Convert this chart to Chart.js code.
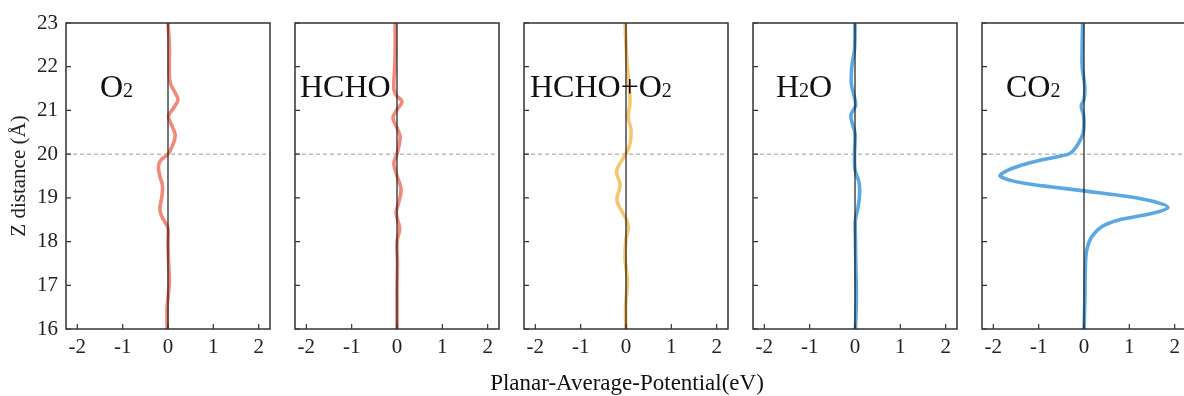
<!DOCTYPE html>
<html>
<head>
<meta charset="utf-8">
<script src="https://cdn.jsdelivr.net/npm/chart.js"></script>
<style>
  body {
    margin: 0;
    width: 1184px;
    height: 396px;
    overflow: hidden;
    background: #fff;
    position: relative;
    font-family: "Liberation Serif", "Times New Roman", serif;
    color: #111;
  }
  canvas { position: absolute; top: 0; }
  .etiqueta {
    position: absolute;
    top: 70px;
    font-size: 32px;
    line-height: 1;
    white-space: nowrap;
  }
  .etiqueta span { font-size: 20px; }
  #tituloX {
    position: absolute;
    top: 371px;
    left: 427px;
    width: 400px;
    text-align: center;
    font-size: 23px;
    line-height: 1;
  }
</style>
</head>
<body>
<canvas id="panel0" width="280" height="396" style="left:0px"></canvas>
<canvas id="panel1" width="280" height="396" style="left:229px"></canvas>
<canvas id="panel2" width="280" height="396" style="left:458px"></canvas>
<canvas id="panel3" width="280" height="396" style="left:687px"></canvas>
<canvas id="panel4" width="280" height="396" style="left:916px"></canvas>

<div class="etiqueta" style="left:100px">O<span>2</span></div>
<div class="etiqueta" style="left:300px">HCHO</div>
<div class="etiqueta" style="left:530px">HCHO+O<span>2</span></div>
<div class="etiqueta" style="left:776px">H<span>2</span>O</div>
<div class="etiqueta" style="left:1006px">CO<span>2</span></div>
<div id="tituloX">Planar-Average-Potential(eV)</div>

<script>
// ejes
const xTicks = [-2, -1, 0, 1, 2];
const yTicks = [16, 17, 18, 19, 20, 21, 22, 23];
const xMin = -2.25;
const xMax = 2.25;
const zInterfaz = 20;

// O2
const zO2 = [23.0, 22.5, 21.8, 21.6, 21.42, 21.24, 21.05, 20.86, 20.62, 20.42, 20.2, 20.0, 19.85, 19.7, 19.5, 19.27, 19.0, 18.75, 18.58, 18.45, 18.3, 18.0, 17.6, 17.1, 16.8, 16.5, 16.0];
const vO2 = [0.0, 0.03, 0.03, 0.06, 0.15, 0.22, 0.12, 0.01, 0.1, 0.16, 0.1, 0.0, -0.17, -0.21, -0.18, -0.12, -0.14, -0.18, -0.14, -0.07, 0.0, 0.0, 0.01, 0.03, 0.01, -0.02, -0.02];

// HCHO
const zHCHO = [23.0, 22.4, 22.0, 21.5, 21.35, 21.2, 21.02, 20.83, 20.6, 20.4, 20.0, 19.8, 19.5, 19.2, 18.9, 18.65, 18.3, 18.0, 17.5, 17.0, 16.5, 16.0];
const vHCHO = [-0.04, -0.04, -0.05, -0.07, -0.02, 0.11, 0.0, -0.09, 0.0, 0.07, 0.0, -0.07, 0.0, 0.09, 0.04, -0.02, 0.06, 0.0, 0.01, 0.0, 0.0, 0.0];

// HCHO+O2
const zMezcla = [23.0, 22.5, 22.0, 21.5, 21.2, 20.85, 20.55, 20.25, 20.05, 19.86, 19.6, 19.3, 18.95, 18.65, 18.5, 18.3, 18.07, 17.6, 17.1, 16.5, 16.0];
const vMezcla = [-0.02, 0.0, 0.03, 0.07, 0.09, 0.05, 0.11, 0.09, 0.02, -0.09, -0.21, -0.13, -0.2, -0.07, 0.01, 0.05, 0.0, -0.02, 0.03, -0.01, 0.0];

// H2O
const zH2O = [23.0, 22.4, 22.0, 21.6, 21.25, 21.1, 20.9, 20.7, 20.48, 20.0, 19.65, 19.35, 19.05, 18.8, 18.5, 18.0, 17.4, 16.7, 16.0];
const vH2O = [0.0, -0.01, -0.07, -0.08, 0.0, 0.01, -0.09, -0.06, 0.0, -0.01, 0.0, 0.09, 0.1, 0.07, 0.01, 0.01, 0.02, 0.03, 0.01];

// CO2
const zCO2 = [23.0, 22.5, 22.0, 21.7, 21.5, 21.25, 21.1, 20.9, 20.7, 20.48, 20.25, 20.1, 20.0, 19.87, 19.75, 19.6, 19.5, 19.4, 19.33, 19.25, 19.16, 19.03, 18.91, 18.78, 18.64, 18.49, 18.34, 18.11, 17.81, 17.4, 16.7, 16.0];
const vCO2 = [-0.03, -0.04, -0.04, 0.0, 0.02, 0.0, -0.06, -0.01, 0.0, -0.02, -0.12, -0.22, -0.34, -0.93, -1.37, -1.74, -1.85, -1.62, -1.29, -0.71, 0.0, 0.97, 1.56, 1.85, 1.49, 0.75, 0.39, 0.17, 0.06, 0.03, 0.02, 0.0];

const fuente = "'Liberation Serif', 'Times New Roman', serif";

// Marco completo y ticks hacia adentro
const marcoPlugin = {
  id: "marco",
  afterDatasetsDraw(chart) {
    const { ctx, chartArea: a, scales } = chart;
    ctx.save();
    ctx.strokeStyle = "#333";
    ctx.lineWidth = 1.5;
    ctx.strokeRect(a.left, a.top, a.right - a.left, a.bottom - a.top);
    ctx.lineWidth = 1.2;
    ctx.beginPath();
    xTicks.forEach((v) => {
      const px = scales.x.getPixelForValue(v);
      ctx.moveTo(px, a.bottom);
      ctx.lineTo(px, a.bottom - 5);
    });
    yTicks.forEach((v) => {
      const py = scales.y.getPixelForValue(v);
      ctx.moveTo(a.left, py);
      ctx.lineTo(a.left + 5, py);
    });
    ctx.stroke();
    ctx.restore();
  },
};

function generarPanel(idx, zData, vData, color) {
  const mostrarEjeY = idx === 0;
  const ctx = document.getElementById(`panel${idx}`).getContext("2d");
  new Chart(ctx, {
    type: "scatter",
    data: {
      datasets: [
        {
          data: [{ x: 0, y: yTicks[0] }, { x: 0, y: yTicks[yTicks.length - 1] }],
          borderColor: "#1a1a1a",
          borderWidth: 1.2,
          showLine: true,
          pointRadius: 0,
        },
        {
          data: zData.map((z, i) => ({ x: vData[i], y: z })),
          borderColor: color,
          borderWidth: 3.6,
          showLine: true,
          pointRadius: 0,
          tension: 0.35,
        },
        {
          data: [{ x: xMin, y: zInterfaz }, { x: xMax, y: zInterfaz }],
          borderColor: "#9a9a9a",
          borderWidth: 1,
          borderDash: [4, 3],
          showLine: true,
          pointRadius: 0,
        },
      ],
    },
    options: {
      responsive: false,
      animation: false,
      layout: { padding: { top: 23, right: 10, left: 0, bottom: 0 } },
      plugins: {
        legend: { display: false },
        tooltip: { enabled: false },
      },
      scales: {
        x: {
          type: "linear",
          min: xMin,
          max: xMax,
          grid: { display: false, drawTicks: false },
          border: { display: false },
          afterBuildTicks: (s) => {
            s.ticks = xTicks.map((v) => ({ value: v }));
          },
          afterFit: (s) => {
            s.height = 67;
          },
          ticks: {
            padding: 6,
            color: "#222",
            autoSkip: false,
            maxRotation: 0,
            font: { family: fuente, size: 21 },
            callback: (v) => String(v),
          },
        },
        y: {
          type: "linear",
          min: yTicks[0],
          max: yTicks[yTicks.length - 1],
          grid: { display: false, drawTicks: false },
          border: { display: false },
          afterBuildTicks: (s) => {
            s.ticks = yTicks.map((v) => ({ value: v }));
          },
          afterFit: (s) => {
            s.width = 66;
          },
          ticks: {
            display: mostrarEjeY,
            padding: 8,
            color: "#222",
            autoSkip: false,
            font: { family: fuente, size: 21 },
            callback: (v) => String(v),
          },
          title: {
            display: mostrarEjeY,
            text: "Z distance (Å)",
            color: "#222",
            font: { family: fuente, size: 21 },
            padding: { top: 7, bottom: 0 },
          },
        },
      },
    },
    plugins: [marcoPlugin],
  });
}

generarPanel(0, zO2, vO2, "rgb(242, 138, 124)");
generarPanel(1, zHCHO, vHCHO, "rgb(242, 138, 124)");
generarPanel(2, zMezcla, vMezcla, "rgb(247, 198, 112)");
generarPanel(3, zH2O, vH2O, "rgb(92, 168, 228)");
generarPanel(4, zCO2, vCO2, "rgb(92, 168, 228)");
</script>
</body>
</html>
